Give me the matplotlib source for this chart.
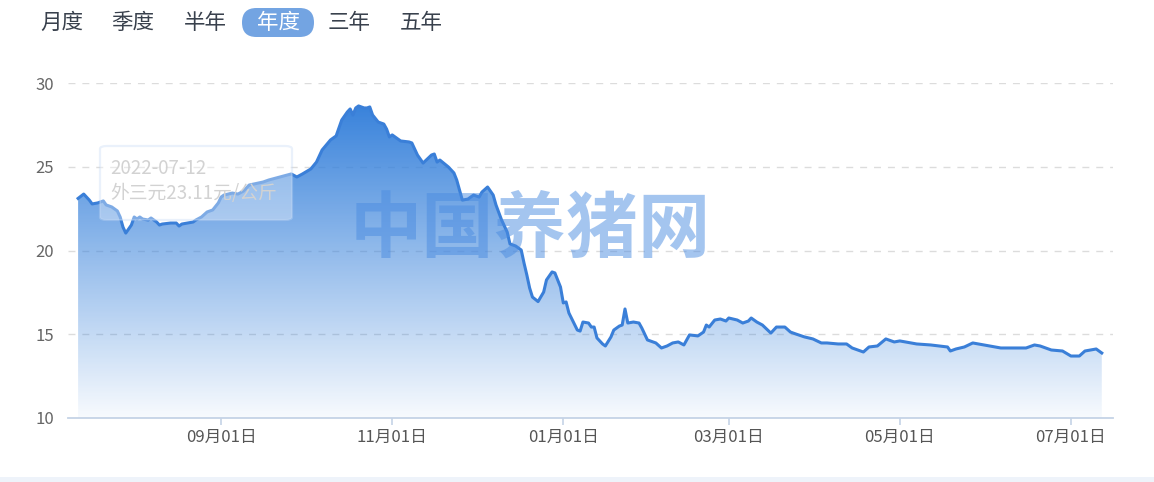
import numpy as np
import pandas as pd
import matplotlib
matplotlib.use("Agg")
import matplotlib.pyplot as plt
import matplotlib.dates as mdates
from matplotlib.patches import FancyBboxPatch, Rectangle

plt.rcParams['font.family'] = ['Noto Sans CJK SC', 'DejaVu Sans']

# 外三元价格 (元/公斤)
dates = [
    "2022-07-12", "2022-07-14", "2022-07-16", "2022-07-17", "2022-07-19", "2022-07-20", "2022-07-21",
    "2022-07-22", "2022-07-24", "2022-07-26", "2022-07-27", "2022-07-28", "2022-07-29", "2022-07-31",
    "2022-08-01", "2022-08-02", "2022-08-03", "2022-08-04", "2022-08-06", "2022-08-07", "2022-08-09",
    "2022-08-10", "2022-08-11", "2022-08-14", "2022-08-16", "2022-08-17", "2022-08-18", "2022-08-20",
    "2022-08-22", "2022-08-23", "2022-08-25", "2022-08-27", "2022-08-29", "2022-08-31",
    "2022-09-01", "2022-09-02", "2022-09-05", "2022-09-07", "2022-09-09", "2022-09-11", "2022-09-16",
    "2022-09-18", "2022-09-22", "2022-09-26", "2022-09-28", "2022-09-30",
    "2022-10-03", "2022-10-05", "2022-10-07", "2022-10-10", "2022-10-12", "2022-10-14", "2022-10-16",
    "2022-10-17", "2022-10-18", "2022-10-19", "2022-10-20", "2022-10-22", "2022-10-23", "2022-10-24",
    "2022-10-25", "2022-10-27", "2022-10-29", "2022-10-30", "2022-10-31",
    "2022-11-01", "2022-11-03", "2022-11-04", "2022-11-07", "2022-11-08", "2022-11-10", "2022-11-12",
    "2022-11-15", "2022-11-16", "2022-11-17", "2022-11-18", "2022-11-21", "2022-11-23", "2022-11-24",
    "2022-11-25", "2022-11-26", "2022-11-28", "2022-11-30",
    "2022-12-02", "2022-12-03", "2022-12-05", "2022-12-06", "2022-12-07", "2022-12-08", "2022-12-10",
    "2022-12-12", "2022-12-13", "2022-12-15", "2022-12-17", "2022-12-18", "2022-12-19", "2022-12-20",
    "2022-12-21", "2022-12-23", "2022-12-25", "2022-12-26", "2022-12-28", "2022-12-29", "2022-12-31",
    "2023-01-01", "2023-01-02", "2023-01-03", "2023-01-06", "2023-01-07", "2023-01-08", "2023-01-10",
    "2023-01-11", "2023-01-12", "2023-01-13", "2023-01-15", "2023-01-16", "2023-01-18", "2023-01-19",
    "2023-01-21", "2023-01-22", "2023-01-23", "2023-01-24", "2023-01-26", "2023-01-28", "2023-01-29",
    "2023-01-31",
    "2023-02-02", "2023-02-03", "2023-02-05", "2023-02-07", "2023-02-09", "2023-02-11", "2023-02-13",
    "2023-02-14", "2023-02-15", "2023-02-18", "2023-02-20", "2023-02-21", "2023-02-22", "2023-02-24",
    "2023-02-26", "2023-02-28",
    "2023-03-01", "2023-03-04", "2023-03-06", "2023-03-08", "2023-03-09", "2023-03-11", "2023-03-13",
    "2023-03-16", "2023-03-18", "2023-03-21", "2023-03-23", "2023-03-25", "2023-03-28", "2023-03-31",
    "2023-04-03", "2023-04-05", "2023-04-09", "2023-04-12", "2023-04-14", "2023-04-18", "2023-04-20",
    "2023-04-23", "2023-04-26", "2023-04-29",
    "2023-05-01", "2023-05-05", "2023-05-07", "2023-05-12", "2023-05-18", "2023-05-19", "2023-05-21",
    "2023-05-24", "2023-05-27",
    "2023-06-02", "2023-06-06", "2023-06-15", "2023-06-18", "2023-06-20", "2023-06-24", "2023-06-28",
    "2023-07-01", "2023-07-04", "2023-07-06", "2023-07-10", "2023-07-12",
]
prices = [
    23.11, 23.37, 23.01, 22.78, 22.84, 22.90, 22.96, 22.72, 22.60, 22.36, 22.00, 21.40, 21.04, 21.52,
    22.00, 21.88, 22.00, 21.88, 21.82, 21.94, 21.70, 21.52, 21.58, 21.64, 21.64, 21.46, 21.58, 21.64,
    21.70, 21.82, 22.00, 22.30, 22.42, 22.84,
    23.19, 23.31, 23.43, 23.37, 23.55, 23.91, 24.09, 24.21, 24.39, 24.57, 24.39, 24.57,
    24.87, 25.28, 26.00, 26.60, 26.84, 27.79, 28.27, 28.45, 28.09, 28.51, 28.63, 28.51, 28.51, 28.57,
    28.09, 27.67, 27.55, 27.25, 26.78,
    26.90, 26.66, 26.54, 26.48, 26.42, 25.70, 25.22, 25.70, 25.76, 25.28, 25.40, 24.99, 24.63, 24.21,
    23.61, 23.01, 23.07, 23.31,
    23.19, 23.49, 23.79, 23.55, 23.31, 22.72, 21.82, 21.10, 20.39, 20.27, 20.03, 19.25, 18.54, 17.76,
    17.22, 16.95, 17.52, 18.24, 18.72, 18.66, 17.82,
    16.87, 16.93, 16.27, 15.25, 15.19, 15.73, 15.67, 15.43, 15.43, 14.78, 14.42, 14.30, 14.84, 15.25,
    15.49, 15.55, 16.51, 15.67, 15.73, 15.67, 15.37, 14.66,
    14.54, 14.48, 14.18, 14.30, 14.48, 14.54, 14.36, 14.66, 14.96, 14.90, 15.13, 15.55, 15.43, 15.85,
    15.91, 15.79,
    15.97, 15.85, 15.67, 15.79, 15.97, 15.73, 15.55, 15.07, 15.43, 15.43, 15.13, 15.01, 14.84, 14.72,
    14.48, 14.48, 14.42, 14.42, 14.18, 13.94, 14.24, 14.30, 14.72, 14.54,
    14.60, 14.48, 14.42, 14.36, 14.24, 14.00, 14.12, 14.24, 14.48,
    14.30, 14.18, 14.18, 14.36, 14.30, 14.06, 14.00,
    13.70, 13.70, 14.00, 14.12, 13.88,
]
tick_dates = ["2022-09-01", "2022-11-01", "2023-01-01", "2023-03-01", "2023-05-01", "2023-07-01"]
y_ticks = [10, 15, 20, 25, 30]
buttons = ["月度", "季度", "半年", "年度", "三年", "五年"]
active = "年度"
tip_date = "2022-07-12"
tip_text = "外三元23.11元/公斤"

W, H = 1154, 482
fig = plt.figure(figsize=(W / 100, H / 100), dpi=100)
fig.patch.set_facecolor("white")

def fx(px):
    return px / W

def fy(py):
    return 1 - py / H

ax = fig.add_axes([fx(68), fy(418), fx(1113) - fx(68), fy(83) - fy(418)])

x = mdates.date2num(pd.to_datetime(dates))
y = np.array(prices)
x0 = mdates.date2num(pd.Timestamp("2022-07-12")) - 3.6
x1 = mdates.date2num(pd.Timestamp("2022-07-12")) + 369

# gradient area
poly = ax.fill_between(x, y, 10, color="none", lw=0)
top_c = np.array([0.22, 0.51, 0.86, 1.0])
bot_c = np.array([0.22, 0.51, 0.86, 0.04])
t = np.linspace(0, 1, 256)[:, None]
grad = (1 - t) * top_c + t * bot_c
img = ax.imshow(grad[:, None, :], extent=[x.min(), x.max(), 10, y.max()],
                aspect="auto", origin="upper", zorder=1, interpolation="bilinear")
img.set_clip_path(poly.get_paths()[0], transform=ax.transData)
ax.plot(x, y, color="#3a7fd8", lw=2.2, zorder=3, solid_joinstyle="round")
ax.set_xlim(x0, x1)
ax.set_ylim(10, 30)

# grid
for v in y_ticks[1:]:
    ax.axhline(v, color="#dcdcdc", lw=1, ls=(0, (5, 5)), zorder=0)

for s in ["top", "right", "left"]:
    ax.spines[s].set_visible(False)
ax.spines["bottom"].set_color("#c5d3e6")
ax.spines["bottom"].set_linewidth(1.3)

ax.set_yticks(y_ticks)
ax.tick_params(axis="y", length=0, pad=10, labelsize=12, labelcolor="#666666")
ax.set_xticks(mdates.date2num(pd.to_datetime(tick_dates)))
ax.xaxis.set_major_formatter(mdates.DateFormatter("%m月%d日"))
ax.tick_params(axis="x", length=5, width=1.2, color="#c5d3e6", pad=3,
               labelsize=12, labelcolor="#555555")

# watermark
ax.text(0.442, 0.56, "中国养猪网", transform=ax.transAxes, fontsize=52, fontweight="bold",
        color="#4b8ce1", alpha=0.5, ha="center", va="center", zorder=5)

# faded tooltip
box = FancyBboxPatch((fx(100), fy(220)), fx(292) - fx(100), fy(146) - fy(220),
                     boxstyle="round,pad=0,rounding_size=0.006", transform=fig.transFigure,
                     facecolor="white", alpha=0.35, edgecolor="#c4d9f5", lw=1.6, zorder=6)
fig.patches.append(box)
fig.text(fx(110), fy(168), tip_date, fontsize=13.5, color="#d2d2d2", va="center", ha="left", zorder=7)
fig.text(fx(110), fy(193), tip_text, fontsize=13.5, color="#d2d2d2", va="center", ha="left", zorder=7)

# period buttons
btn_x = [62, 133, 205, 278, 349, 421]
for label, bx in zip(buttons, btn_x):
    if label == active:
        pill = FancyBboxPatch((fx(242), fy(37)), fx(314) - fx(242), fy(8) - fy(37),
                              boxstyle="round,pad=0,rounding_size=0.0125",
                              transform=fig.transFigure, facecolor="#73a4e2",
                              edgecolor="none", mutation_aspect=2.4)
        fig.patches.append(pill)
        fig.text(fx(bx), fy(23), label, fontsize=15.5, color="white", ha="center", va="center")
    else:
        fig.text(fx(bx), fy(23), label, fontsize=15.5, color="#39414d", ha="center", va="center")

# bottom card edge
fig.patches.append(Rectangle((0, 0), 1, 5 / H, transform=fig.transFigure,
                             facecolor="#eef3fa", edgecolor="none"))

fig.savefig("out.png", dpi=100)
